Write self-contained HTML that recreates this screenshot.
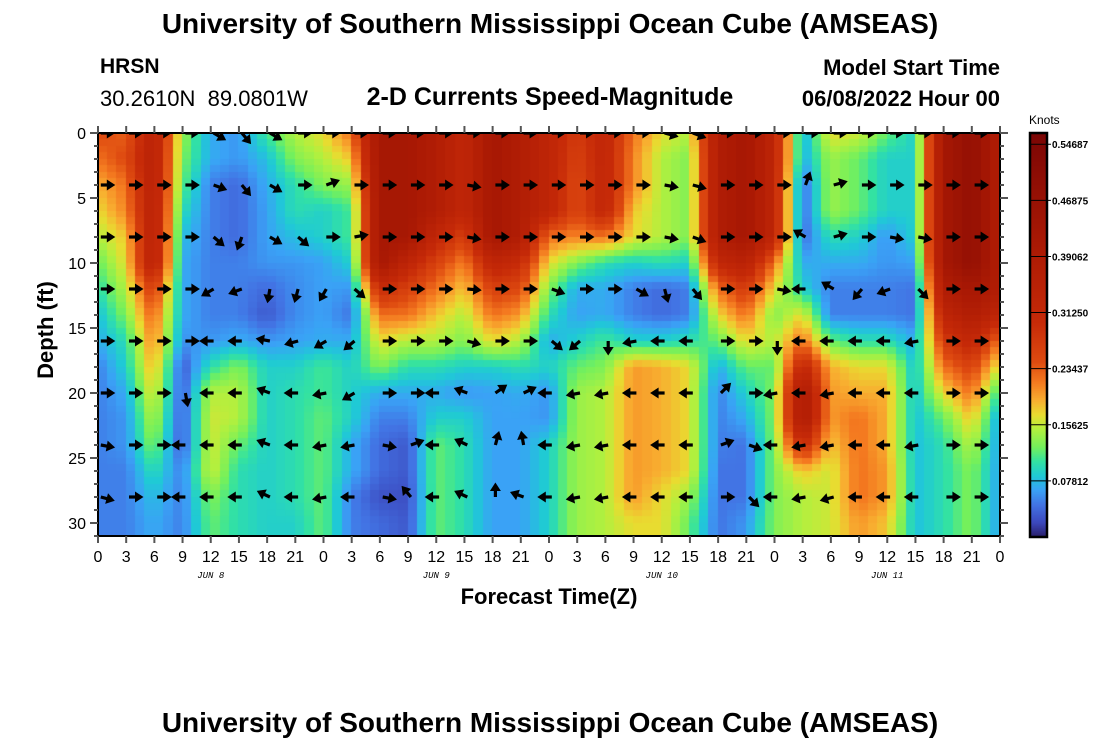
<!DOCTYPE html>
<html><head><meta charset="utf-8"><style>
body{margin:0;background:#fff;width:1100px;height:750px;overflow:hidden;font-family:"Liberation Sans",sans-serif}
.t{position:absolute;white-space:nowrap;color:#000}
</style></head><body>
<div style="position:relative;width:1100px;height:750px">
<div class="t" style="left:0;width:1100px;text-align:center;top:8px;font-size:28px;font-weight:bold">University of Southern Mississippi Ocean Cube (AMSEAS)</div>
<div class="t" style="left:100px;top:55px;font-size:21px;font-weight:bold">HRSN</div>
<div class="t" style="left:100px;top:86px;font-size:22px">30.2610N&nbsp; 89.0801W</div>
<div class="t" style="left:300px;width:500px;text-align:center;top:83px;font-size:25px;font-weight:bold">2-D Currents Speed-Magnitude</div>
<div class="t" style="right:100px;top:55px;font-size:22px;font-weight:bold">Model Start Time</div>
<div class="t" style="right:100px;top:86px;font-size:22px;font-weight:bold">06/08/2022 Hour 00</div>
<div class="t" style="left:0;width:1100px;text-align:center;top:707px;font-size:28px;font-weight:bold">University of Southern Mississippi Ocean Cube (AMSEAS)</div>
<canvas id="cv" width="1100" height="750" style="position:absolute;left:0;top:0"></canvas>
<svg id="sv" width="1100" height="750" style="position:absolute;left:0;top:0"></svg>
</div>
<script>
const hours=[0,3,6,9,12,15,18,21,24,27,30,33,36,39,42,45,48,51,54,57,60,63,66,69,72,75,78,81,84,87,90,93,96];
const depths=[0,2,4,6,8,10,12,14,16,18,20,22,24,26,28,30];
// speed (knots) per forecast hour column, values at each depth
const speed=[
[.25,.22,.19,.17,.15,.12,.10,.08,.07,.05,.05,.05,.05,.05,.05,.05],
[.23,.25,.22,.21,.18,.17,.15,.13,.10,.09,.07,.06,.06,.05,.05,.05],
[.35,.35,.35,.35,.35,.35,.27,.23,.21,.19,.17,.15,.13,.10,.08,.07],
[.14,.13,.12,.10,.08,.07,.07,.07,.06,.03,.03,.03,.03,.05,.05,.05],
[.07,.07,.05,.05,.05,.05,.05,.05,.06,.10,.15,.16,.16,.16,.13,.12],
[.06,.06,.04,.04,.04,.05,.05,.05,.07,.13,.15,.15,.12,.10,.10,.10],
[.11,.08,.07,.065,.065,.06,.04,.03,.06,.09,.09,.09,.09,.09,.09,.09],
[.15,.13,.10,.10,.08,.06,.055,.055,.065,.09,.10,.10,.10,.10,.10,.09],
[.17,.15,.13,.09,.09,.065,.065,.065,.07,.11,.11,.12,.12,.12,.12,.12],
[.22,.18,.14,.11,.11,.09,.06,.045,.07,.09,.09,.09,.07,.07,.05,.05],
[.42,.42,.42,.42,.42,.42,.30,.22,.17,.13,.07,.05,.04,.04,.025,.04],
[.42,.42,.42,.42,.42,.33,.26,.22,.15,.10,.07,.05,.03,.03,.025,.03],
[.38,.38,.38,.38,.32,.26,.22,.18,.15,.10,.07,.09,.12,.12,.12,.12],
[.32,.32,.32,.32,.26,.21,.18,.15,.13,.09,.06,.09,.10,.10,.10,.10],
[.42,.42,.42,.42,.42,.33,.26,.22,.17,.09,.065,.065,.065,.065,.065,.065],
[.38,.38,.38,.38,.38,.30,.25,.20,.15,.10,.07,.065,.065,.065,.065,.065],
[.33,.33,.33,.33,.22,.17,.13,.10,.07,.09,.06,.06,.09,.09,.09,.09],
[.27,.26,.25,.25,.21,.13,.07,.065,.09,.12,.14,.14,.14,.14,.14,.14],
[.32,.32,.32,.32,.22,.10,.07,.07,.11,.13,.15,.15,.15,.15,.15,.15],
[.22,.21,.21,.18,.17,.09,.05,.05,.09,.20,.20,.20,.20,.20,.20,.17],
[.17,.15,.15,.15,.15,.10,.04,.04,.09,.19,.19,.19,.19,.19,.17,.17],
[.15,.13,.13,.13,.13,.09,.05,.05,.10,.17,.17,.17,.17,.17,.14,.12],
[.38,.38,.38,.38,.38,.32,.22,.17,.12,.07,.05,.05,.05,.045,.045,.045],
[.42,.42,.42,.42,.42,.35,.27,.22,.17,.12,.09,.07,.045,.045,.045,.06],
[.33,.33,.33,.33,.33,.22,.17,.13,.15,.12,.13,.13,.13,.13,.13,.13],
[.07,.07,.04,.04,.04,.07,.09,.17,.22,.32,.40,.40,.30,.18,.15,.15],
[.17,.14,.14,.14,.10,.07,.05,.05,.12,.19,.20,.20,.18,.16,.16,.16],
[.16,.12,.12,.12,.09,.07,.05,.05,.10,.17,.19,.22,.22,.22,.22,.20],
[.12,.09,.09,.09,.06,.06,.05,.05,.10,.17,.19,.19,.19,.20,.20,.18],
[.09,.09,.09,.09,.09,.065,.045,.045,.07,.08,.08,.08,.08,.08,.08,.08],
[.42,.42,.42,.42,.42,.42,.38,.33,.27,.22,.17,.12,.10,.10,.10,.10],
[.48,.48,.48,.48,.48,.48,.42,.38,.32,.26,.22,.18,.15,.13,.13,.13],
[.38,.38,.38,.38,.38,.38,.38,.33,.22,.16,.10,.065,.065,.065,.065,.065]
];
// arrow directions (degrees, 0=east, 90=north) at each 3-h step
const arrowDepths=[0,4,8,12,16,20,24,28];
const dir0=[0,0,0,0,-30,-50,-30,0,0,0,0,0,0,0,0,0,0,0,0,0,-15,-20,0,0,0,0,0,0,0,0,0,0];
const dir4=[0,0,0,0,-20,-50,-30,0,20,0,0,0,0,-10,0,0,0,0,0,0,-10,-15,0,0,0,70,15,0,0,0,0,0];
const dir8=[0,0,0,0,-40,-110,-30,-40,0,10,0,0,0,-10,0,0,0,0,0,0,-10,-20,0,0,0,150,15,0,-10,-10,0,0];
const dir12=[0,0,0,0,-150,-160,-100,-105,-120,-40,0,0,0,-5,0,0,-20,0,0,-30,-75,-50,0,0,-10,180,150,-130,-160,-45,0,0];
const dir16=[0,0,0,0,180,180,170,-165,-150,-140,0,0,0,-15,0,0,-40,-140,-90,-170,180,180,0,0,-90,180,180,180,180,-170,0,0];
const dir20=[0,0,0,-80,180,180,160,180,-170,-150,0,0,180,160,35,25,180,-170,-170,180,180,180,45,0,-170,180,-170,180,180,180,0,0];
const dir24=[-10,0,0,180,180,180,160,180,-170,-170,-10,20,180,155,75,100,180,-170,-170,180,180,180,20,-20,180,-170,-170,180,180,-170,0,0];
const dir28=[-15,0,0,180,180,180,155,180,-170,180,-10,130,180,155,90,160,180,-170,-170,180,180,180,0,-45,180,-170,-165,180,180,180,0,0];
const dirRows=[dir0,dir4,dir8,dir12,dir16,dir20,dir24,dir28];
const xTicks=[0,3,6,9,12,15,18,21,0,3,6,9,12,15,18,21,0,3,6,9,12,15,18,21,0,3,6,9,12,15,18,21,0];
const dayLabels=["JUN 8","JUN 9","JUN 10","JUN 11"];
const yTicks=[0,5,10,15,20,25,30];
const cbTicks=[0.07812,0.15625,0.23437,0.3125,0.39062,0.46875,0.54687];

const X0=98,X1=1000,Y0=133,Y1=536,T1=96,DMAX=31;
const xs=t=>X0+t*(X1-X0)/T1;
const ys=d=>Y0+d*13;
const CB0=1030,CB1=1047,CBT=133,CBB=537,VMAX=0.5625;
const cbY=v=>CBB-v/VMAX*(CBB-CBT);
const stops=[[0,'#2a1f6a'],[.02,'#3c48bd'],[.045,'#4274e4'],[.065,'#3aa2f6'],[.085,'#1fc9d6'],[.105,'#33e2a2'],[.125,'#74f05c'],[.15,'#b2f03e'],[.17,'#e8dc30'],[.19,'#f8ae30'],[.215,'#f47a20'],[.245,'#de4a10'],[.30,'#c62a08'],[.40,'#ac1a04'],[.56,'#7c0604']];
function hex(h){return[1,3,5].map(i=>parseInt(h.substr(i,2),16));}
function color(v){
  if(v<=stops[0][0])return stops[0][1];
  for(let i=1;i<stops.length;i++){if(v<=stops[i][0]){const a=hex(stops[i-1][1]),b=hex(stops[i][1]),f=(v-stops[i-1][0])/(stops[i][0]-stops[i-1][0]);return 'rgb('+a.map((c,k)=>Math.round(c+(b[k]-c)*f)).join(',')+')';}}
  return stops[stops.length-1][1];
}
function sample(t,d){
  let ci=Math.min(hours.length-2,Math.floor(t/3)),ft=(t-hours[ci])/3;
  let dd=Math.min(d,30),ri=Math.min(depths.length-2,Math.floor(dd/2)),fd=(dd-depths[ri])/2;
  const a=speed[ci][ri],b=speed[ci+1][ri],c=speed[ci][ri+1],e=speed[ci+1][ri+1];
  return (a*(1-ft)+b*ft)*(1-fd)+(c*(1-ft)+e*ft)*fd;
}
const cv=document.getElementById('cv'),ctx=cv.getContext('2d');
for(let h=0;h<T1;h++){for(let k=0;k<DMAX*2;k++){
  const d=k/2;ctx.fillStyle=color(sample(h+0.5,d+0.25));
  const x=xs(h),y=ys(d);ctx.fillRect(Math.floor(x),Math.floor(y),Math.ceil(xs(h+1))-Math.floor(x),Math.ceil(ys(d+0.5))-Math.floor(y));
}}
for(let y=CBT;y<CBB;y++){ctx.fillStyle=color((CBB-y-0.5)/(CBB-CBT)*VMAX);ctx.fillRect(CB0,y,CB1-CB0,1);}

const NS='http://www.w3.org/2000/svg',sv=document.getElementById('sv');
function el(tag,at,parent){const e=document.createElementNS(NS,tag);for(const k in at)e.setAttribute(k,at[k]);(parent||sv).appendChild(e);return e;}
const clip=el('clipPath',{id:'pc'});el('rect',{x:X0,y:Y0,width:X1-X0,height:Y1-Y0},clip);
const ag=el('g',{'clip-path':'url(#pc)'});


dirRows.forEach((row,ri)=>{row.forEach((ang,k)=>{
  const t=3*k+0.3,x=xs(t),y=ys(arrowDepths[ri]);
  const g=el('g',{transform:'translate('+x.toFixed(1)+','+y.toFixed(1)+') rotate('+(-ang)+')'},ag);
  
  
  el('line',{x1:0,y1:0,x2:8,y2:0,stroke:'#000','stroke-width':3.2},g);
  el('polygon',{points:'6,-5.5 14.5,0 6,5.5',fill:'#000'},g);
});});
const fr=el('rect',{x:X0,y:Y0,width:X1-X0,height:Y1-Y0,fill:'none',stroke:'#000','stroke-width':2});


xTicks.forEach((lab,i)=>{const x=xs(hours[i]);
  el('line',{x1:x,y1:Y1,x2:x,y2:Y1+7,stroke:'#555','stroke-width':2});
  el('line',{x1:x,y1:Y0,x2:x,y2:Y0-7,stroke:'#555','stroke-width':2});
  const tx=el('text',{x:x,y:Y1+26,'font-size':16,'text-anchor':'middle','font-family':'Liberation Sans, sans-serif'});tx.textContent=lab;
  
  
});
dayLabels.forEach((lab,i)=>{const tx=el('text',{x:xs(12+24*i),y:Y1+42,'font-size':9,'font-style':'italic','text-anchor':'middle','font-family':'Liberation Mono, monospace'});tx.textContent=lab;
  
  
});
for(let d=0;d<=DMAX;d++){const y=ys(d),L=d%5===0?8:4;
  el('line',{x1:X0,y1:y,x2:X0-L,y2:y,stroke:'#555','stroke-width':2});
  el('line',{x1:X1,y1:y,x2:X1+L,y2:y,stroke:'#555','stroke-width':2});}
yTicks.forEach(d=>{const tx=el('text',{x:86,y:ys(d)+6,'font-size':16,'text-anchor':'end','font-family':'Liberation Sans, sans-serif'});tx.textContent=d;
  
  
});
let t1=el('text',{x:549,y:604,'font-size':22,'font-weight':'bold','text-anchor':'middle','font-family':'Liberation Sans, sans-serif'});t1.textContent='Forecast Time(Z)';


let t2=el('text',{x:0,y:0,'font-size':22,'font-weight':'bold','text-anchor':'middle',transform:'translate(53,330) rotate(-90)','font-family':'Liberation Sans, sans-serif'});t2.textContent='Depth (ft)';


const cb=el('rect',{x:CB0,y:CBT,width:CB1-CB0,height:CBB-CBT,fill:'none',stroke:'#000','stroke-width':2.5});


let kt=el('text',{x:1029,y:124,'font-size':12,'font-family':'Liberation Sans, sans-serif'});kt.textContent='Knots';


cbTicks.forEach(v=>{const y=cbY(v);
  el('line',{x1:CB0,y1:y,x2:CB1+4,y2:y,stroke:'#000','stroke-width':1});
  const tx=el('text',{x:1052,y:y+4,'font-size':10,'font-weight':'bold','font-family':'Liberation Sans, sans-serif'});tx.textContent=v.toFixed(5);
  
  
});
</script>
</body></html>
